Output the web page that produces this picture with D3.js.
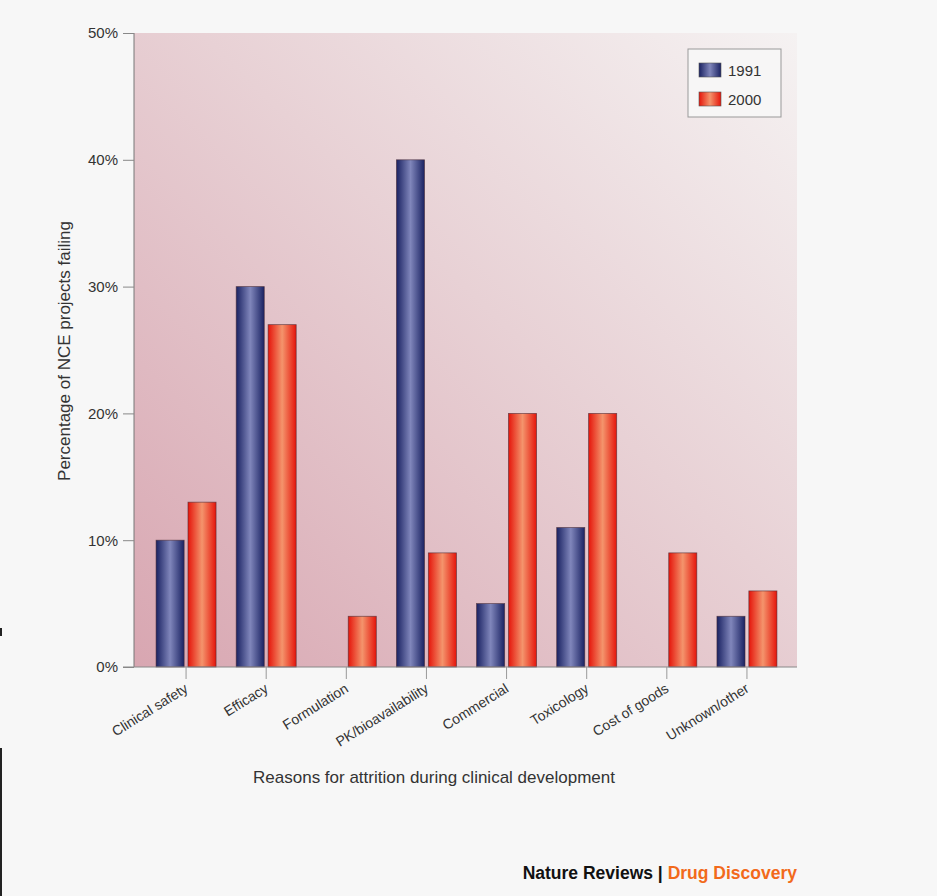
<!DOCTYPE html>
<html>
<head>
<meta charset="utf-8">
<script src="https://cdn.jsdelivr.net/npm/d3@7"></script>
<style>
  html, body { margin: 0; padding: 0; background: #f7f7f7; }
  svg { display: block; font-family: "Liberation Sans", Arial, sans-serif; }
</style>
</head>
<body>
<div id="chart"></div>
<script>
// chart data
const categories = ['Clinical safety', 'Efficacy', 'Formulation', 'PK/bioavailability',
  'Commercial', 'Toxicology', 'Cost of goods', 'Unknown/other'];
const seriesNames = ['1991', '2000'];
const values1991 = [10, 30, 0, 40, 5, 11, 0, 4];
const values2000 = [13, 27, 4, 9, 20, 20, 9, 6];
const yTicks = [0, 10, 20, 30, 40, 50];

const width = 937, height = 896;
const plot = { left: 134, right: 797, top: 33, bottom: 667 };

const svg = d3.select('#chart')
  .append('svg')
  .attr('width', width)
  .attr('height', height);

const defs = svg.append('defs');

// plot background: darker pink bottom-left, near white top-right
const bg = defs.append('linearGradient')
  .attr('id', 'bgGrad')
  .attr('x1', '0').attr('y1', '1').attr('x2', '1').attr('y2', '0');
bg.append('stop').attr('offset', '0%').attr('stop-color', '#d8a6b1');
bg.append('stop').attr('offset', '55%').attr('stop-color', '#e8d1d5');
bg.append('stop').attr('offset', '100%').attr('stop-color', '#f5f2f2');

// cylinder-like bar fills
function barGrad(id, edge, mid) {
  const g = defs.append('linearGradient')
    .attr('id', id)
    .attr('x1', '0').attr('y1', '0').attr('x2', '1').attr('y2', '0');
  g.append('stop').attr('offset', '0%').attr('stop-color', edge);
  g.append('stop').attr('offset', '50%').attr('stop-color', mid);
  g.append('stop').attr('offset', '100%').attr('stop-color', edge);
}
barGrad('g1991', '#1a2262', '#8086bb');
barGrad('g2000', '#e5150b', '#f4946c');
const fills = { '1991': 'url(#g1991)', '2000': 'url(#g2000)' };

svg.append('rect')
  .attr('x', plot.left).attr('y', plot.top)
  .attr('width', plot.right - plot.left)
  .attr('height', plot.bottom - plot.top)
  .attr('fill', 'url(#bgGrad)');

// scales
const x = d3.scaleBand()
  .domain(categories)
  .range([146, 787]);

const xInner = d3.scaleBand()
  .domain(seriesNames)
  .range([-30, 30])
  .paddingInner(0.12);

const y = d3.scaleLinear()
  .domain([0, 50])
  .range([plot.bottom, plot.top]);

// bars
const rows = categories.map((c, i) => ({ cat: c, vals: [
  { key: '1991', v: values1991[i] },
  { key: '2000', v: values2000[i] }
] }));

const groups = svg.append('g')
  .selectAll('g')
  .data(rows)
  .join('g')
  .attr('transform', d => `translate(${x(d.cat) + x.bandwidth() / 2},0)`);

groups.selectAll('rect')
  .data(d => d.vals.filter(e => e.v > 0))
  .join('rect')
  .attr('x', d => xInner(d.key))
  .attr('width', xInner.bandwidth())
  .attr('y', d => y(d.v))
  .attr('height', d => y(0) - y(d.v))
  .attr('fill', d => fills[d.key])
  .attr('stroke', '#4a2c36')
  .attr('stroke-opacity', 0.7)
  .attr('stroke-width', 0.8);

// y axis
const yAxis = svg.append('g')
  .attr('transform', `translate(${plot.left},0)`)
  .call(d3.axisLeft(y).tickValues(yTicks).tickFormat(d => d + '%').tickSize(11).tickPadding(5));
yAxis.select('.domain').attr('stroke', '#777').attr('d', `M0,${plot.top}V${plot.bottom}`);
yAxis.selectAll('.tick line').attr('stroke', '#888');
yAxis.selectAll('text').attr('fill', '#333').style('font-size', '15px');

// x axis
const xAxis = svg.append('g')
  .attr('transform', `translate(0,${plot.bottom})`)
  .call(d3.axisBottom(x).tickSize(12).tickFormat(''));
xAxis.select('.domain').attr('stroke', '#888').attr('d', `M${plot.left - 11},0H${plot.right}`);
xAxis.selectAll('.tick line').attr('stroke', '#999');

xAxis.selectAll('.tick')
  .append('text')
  .attr('fill', '#333')
  .style('font-size', '14px')
  .attr('text-anchor', 'end')
  .attr('transform', 'translate(3,24) rotate(-32)')
  .text(d => d);

// axis titles
svg.append('text')
  .attr('transform', `translate(70,351) rotate(-90)`)
  .attr('text-anchor', 'middle')
  .attr('fill', '#333')
  .style('font-size', '17px')
  .text('Percentage of NCE projects failing');

svg.append('text')
  .attr('x', 434).attr('y', 783)
  .attr('text-anchor', 'middle')
  .attr('fill', '#333')
  .style('font-size', '17px')
  .text('Reasons for attrition during clinical development');

// legend
const legend = svg.append('g').attr('transform', 'translate(688,49)');
legend.append('rect')
  .attr('width', 93).attr('height', 68)
  .attr('fill', '#f7f6f6')
  .attr('stroke', '#999');
const li = legend.selectAll('g.item')
  .data(seriesNames)
  .join('g')
  .attr('class', 'item')
  .attr('transform', (d, i) => `translate(11,${14 + i * 29})`);
li.append('rect')
  .attr('width', 22).attr('height', 14)
  .attr('fill', d => fills[d])
  .attr('stroke', '#555').attr('stroke-width', 0.6);
li.append('text')
  .attr('x', 29).attr('y', 13)
  .attr('fill', '#333')
  .style('font-size', '15px')
  .text(d => d);

// footer
const foot = svg.append('text')
  .attr('x', 797).attr('y', 879)
  .attr('text-anchor', 'end')
  .style('font-size', '17.5px')
  .style('font-weight', 'bold');
foot.append('tspan').attr('fill', '#111').text('Nature Reviews | ');
foot.append('tspan').attr('fill', '#f26a1b').text('Drug Discovery');

// crop marks at the left edge
svg.append('line').attr('x1', 1).attr('x2', 1).attr('y1', 628).attr('y2', 636)
  .attr('stroke', '#222').attr('stroke-width', 2);
svg.append('line').attr('x1', 1).attr('x2', 1).attr('y1', 748).attr('y2', 896)
  .attr('stroke', '#222').attr('stroke-width', 2);
</script>
</body>
</html>
